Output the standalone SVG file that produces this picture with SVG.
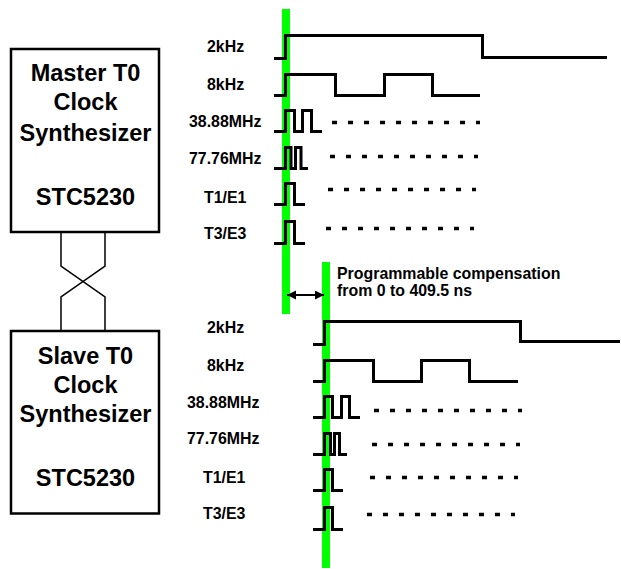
<svg xmlns="http://www.w3.org/2000/svg" width="621" height="569" viewBox="0 0 621 569">
<style>
text{font-family:"Liberation Sans",Arial,sans-serif;font-weight:bold;fill:#000}
.t{font-size:23.5px;text-anchor:middle}
.l{font-size:15.9px}
.box{fill:#fff;stroke:#000;stroke-width:2.500}
.w{fill:none;stroke:#000;stroke-width:3}
.d{fill:none;stroke:#000;stroke-width:3.500;stroke-dasharray:5 11}
.v{fill:none;stroke:#000;stroke-width:1.500}
.g{fill:#00ff00}
</style>
<defs>
<marker id="ah" markerWidth="10" markerHeight="10" refX="9" refY="4.5" orient="auto-start-reverse" markerUnits="userSpaceOnUse"><path d="M0 0L9 4.5L0 9Z" fill="#000"/></marker>
</defs>
<g id="sync-bars">
<rect class="g" x="282" y="9" width="8" height="305"/>
<rect class="g" x="322" y="262" width="8" height="306"/>
</g>
<g id="connectors">
<path class="v" d="M61 232V266L105 297V331"/>
<path class="v" d="M105 232V266L61 297V331"/>
<path d="M287 295H324" fill="none" stroke="#000" stroke-width="2" marker-start="url(#ah)" marker-end="url(#ah)"/>
</g>
<g id="master">
<rect class="box" x="11" y="49" width="148" height="183"/>
<text class="t" x="85.500" y="81">Master T0</text>
<text class="t" x="85.500" y="110">Clock</text>
<text class="t" x="85.500" y="141">Synthesizer</text>
<text class="t" x="85.500" y="205">STC5230</text>
</g>
<g id="slave">
<rect class="box" x="11" y="331" width="148" height="182.500"/>
<text class="t" x="85.500" y="364">Slave T0</text>
<text class="t" x="85.500" y="393">Clock</text>
<text class="t" x="85.500" y="422">Synthesizer</text>
<text class="t" x="85.500" y="486">STC5230</text>
</g>
<g id="master-waves">
<text class="l" x="207" y="52">2kHz</text>
<path class="w" d="M274 58.500H285.500V35.500H482.500V57.500H607"/>
<text class="l" x="207" y="90">8kHz</text>
<path class="w" d="M274 95.500H285.500V74.500H335.500V95.500H384.500V74.500H432.500V95.500H480"/>
<text class="l" x="189" y="127">38.88MHz</text>
<path class="w" d="M274 131.500H285.500V110.500H294.500V131.500H302.500V110.500H311.500V131.500H322"/>
<path class="d" d="M332 122.500H480"/>
<text class="l" x="189" y="164">77.76MHz</text>
<path class="w" d="M274 168.500H285.500V147.500H291V168.500H295.500V147.500H301V168.500H308"/>
<path class="d" d="M330 156.500H478"/>
<text class="l" x="204" y="203">T1/E1</text>
<path class="w" d="M274 204.500H285.500V183.500H294.500V204.500H305"/>
<path class="d" d="M328 189.500H476"/>
<text class="l" x="204" y="239">T3/E3</text>
<path class="w" d="M274 243.500H285.500V221.500H294.500V243.500H305"/>
<path class="d" d="M326 228.500H474"/>
</g>
<g id="compensation-label">
<text class="l" x="337" y="279">Programmable compensation</text>
<text class="l" x="337" y="296">from 0 to 409.5 ns</text>
</g>
<g id="slave-waves">
<text class="l" x="207" y="333">2kHz</text>
<path class="w" d="M313 344.500H324.500V321.500H520.500V341.500H620"/>
<text class="l" x="207" y="371">8kHz</text>
<path class="w" d="M313 381.500H324.500V360.500H373.500V381.500H421.500V360.500H469.500V381.500H518"/>
<text class="l" x="187" y="408">38.88MHz</text>
<path class="w" d="M313 417.500H324.500V396.500H332.500V417.500H341.500V396.500H349.500V417.500H360"/>
<path class="d" d="M374 410.500H522"/>
<text class="l" x="187" y="444">77.76MHz</text>
<path class="w" d="M313 454.500H324.500V433.500H330.500V454.500H334.500V433.500H339.500V454.500H347"/>
<path class="d" d="M372 444.500H520"/>
<text class="l" x="203" y="483">T1/E1</text>
<path class="w" d="M313 490.500H324.500V469.500H332.500V490.500H343"/>
<path class="d" d="M370 477.500H518"/>
<text class="l" x="203" y="519">T3/E3</text>
<path class="w" d="M313 529.500H324.500V507.500H332.500V529.500H343"/>
<path class="d" d="M367 514.500H515"/>
</g>
</svg>
